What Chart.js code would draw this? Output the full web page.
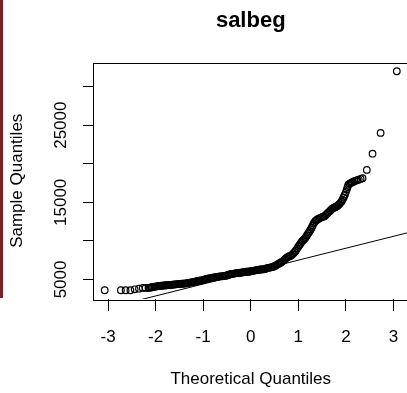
<!DOCTYPE html>
<html>
<head>
<meta charset="utf-8">
<title>salbeg</title>
<script src="https://cdn.jsdelivr.net/npm/chart.js@4"></script>
<style>
    html, body { margin: 0; padding: 0; background: #fff; overflow: hidden; }
    #quadro { position: relative; width: 407px; height: 393px; overflow: hidden; }
    #grafico { position: absolute; left: 0; top: 0; }
    #barra { position: absolute; left: 0; top: 0; width: 3px; height: 298px; background: #7b2227; }
</style>
</head>
<body>
<div id="quadro">
    <canvas id="grafico" width="420" height="393"></canvas>
    <div id="barra"></div>
</div>
<script>
// Quantis teóricos (eixo x)
const quantisTeoricos = [
    -3.07, -2.73, -2.63, -2.53, -2.44, -2.35, -2.27, -2.21, -2.15, -2.125,
    -2.100, -2.075, -2.050, -2.025, -2.000, -1.975, -1.950, -1.925, -1.900, -1.875,
    -1.850, -1.825, -1.800, -1.775, -1.750, -1.725, -1.700, -1.675, -1.650, -1.625,
    -1.600, -1.575, -1.550, -1.525, -1.500, -1.475, -1.450, -1.425, -1.400, -1.375,
    -1.350, -1.325, -1.300, -1.275, -1.250, -1.225, -1.200, -1.175, -1.150, -1.125,
    -1.100, -1.075, -1.050, -1.025, -1.000, -0.975, -0.950, -0.925, -0.900, -0.875,
    -0.850, -0.825, -0.800, -0.775, -0.750, -0.725, -0.700, -0.675, -0.650, -0.625,
    -0.600, -0.575, -0.550, -0.525, -0.500, -0.475, -0.450, -0.425, -0.400, -0.375,
    -0.350, -0.325, -0.300, -0.275, -0.250, -0.225, -0.200, -0.175, -0.150, -0.125,
    -0.100, -0.075, -0.050, -0.025, 0.000, 0.025, 0.050, 0.075, 0.100, 0.125,
    0.150, 0.175, 0.200, 0.225, 0.250, 0.275, 0.300, 0.325, 0.350, 0.375,
    0.400, 0.425, 0.450, 0.475, 0.500, 0.525, 0.550, 0.575, 0.600, 0.625,
    0.650, 0.675, 0.700, 0.725, 0.750, 0.775, 0.800, 0.825, 0.850, 0.875,
    0.900, 0.925, 0.950, 0.975, 1.000, 1.020, 1.040, 1.060, 1.080, 1.100,
    1.120, 1.140, 1.160, 1.180, 1.200, 1.220, 1.240, 1.260, 1.280, 1.300,
    1.320, 1.340, 1.360, 1.380, 1.400, 1.425, 1.450, 1.475, 1.500, 1.525,
    1.550, 1.575, 1.600, 1.625, 1.650, 1.675, 1.700, 1.720, 1.740, 1.760,
    1.780, 1.800, 1.820, 1.840, 1.860, 1.885, 1.910, 1.930, 1.950, 1.965,
    1.980, 2.000, 2.020, 2.035, 2.050, 2.075, 2.100, 2.125, 2.150, 2.180,
    2.210, 2.240, 2.270, 2.310, 2.350, 2.440, 2.560, 2.730, 3.070
];

// Quantis da amostra (salbeg), mesma ordem
const quantisAmostra = [
    3600, 3600, 3600, 3600, 3720, 3800, 3900, 3900, 3900, 3930,
    3960, 3990, 4020, 4050, 4080, 4110, 4140, 4150, 4170, 4185,
    4200, 4215, 4230, 4245, 4260, 4275, 4290, 4305, 4320, 4335,
    4350, 4365, 4380, 4395, 4410, 4425, 4440, 4455, 4470, 4485,
    4500, 4530, 4560, 4590, 4620, 4650, 4680, 4710, 4740, 4770,
    4800, 4830, 4860, 4890, 4920, 4980, 5040, 5070, 5100, 5130,
    5160, 5190, 5220, 5250, 5280, 5310, 5340, 5370, 5400, 5400,
    5400, 5430, 5460, 5490, 5520, 5580, 5640, 5670, 5700, 5730,
    5760, 5790, 5820, 5835, 5850, 5865, 5880, 5910, 5940, 5970,
    6000, 6000, 6000, 6030, 6060, 6090, 6120, 6150, 6180, 6210,
    6240, 6270, 6300, 6300, 6300, 6330, 6360, 6420, 6480, 6510,
    6540, 6570, 6600, 6660, 6720, 6810, 6900, 6990, 7080, 7170,
    7260, 7380, 7500, 7650, 7800, 7890, 7980, 8040, 8100, 8250,
    8400, 8580, 8760, 9000, 9240, 9420, 9600, 9780, 9960, 10080,
    10200, 10350, 10500, 10710, 10920, 11100, 11280, 11490, 11700, 11970,
    12240, 12420, 12600, 12690, 12780, 12870, 12960, 13020, 13080, 13140,
    13200, 13350, 13500, 13650, 13800, 13950, 14100, 14190, 14280, 14340,
    14400, 14460, 14520, 14640, 14760, 14940, 15120, 15360, 15600, 15810,
    16020, 16350, 16680, 16980, 17280, 17400, 17500, 17570, 17640, 17730,
    17820, 17880, 17940, 18030, 18120, 19200, 21300, 24000, 31992
];

// Reta de referência (qqline): extremos
const retaX = [-3.4, 3.4];
const retaY = [693, 11213];

// Marcas dos eixos
const marcasX = [-3, -2, -1, 0, 1, 2, 3];
const marcasY = [5000, 10000, 15000, 20000, 25000, 30000];
const rotulosY = ['5000', '', '15000', '', '25000', ''];

const fonte = "'Liberation Sans', Arial, sans-serif";

// Plugin para desenhar a caixa em volta da área do gráfico
const caixa = {
    id: 'caixa',
    afterDraw(chart) {
        const a = chart.chartArea;
        const ctx = chart.ctx;
        ctx.save();
        ctx.strokeStyle = '#000';
        ctx.lineWidth = 1;
        ctx.strokeRect(Math.round(a.left) + 0.5, Math.round(a.top) + 0.5,
            Math.round(a.right - a.left), Math.round(a.bottom - a.top));
        ctx.restore();
    }
};

const pontos = quantisTeoricos.map((x, i) => ({ x: x, y: quantisAmostra[i] }));
const reta = retaX.map((x, i) => ({ x: x, y: retaY[i] }));

const ctx = document.getElementById('grafico').getContext('2d');
window.meuGrafico = new Chart(ctx, {
    type: 'scatter',
    data: {
        datasets: [{
            label: 'salbeg',
            data: pontos,
            pointStyle: 'circle',
            pointRadius: 3.3,
            pointBorderWidth: 1.2,
            pointBorderColor: '#000',
            pointBackgroundColor: 'rgba(0,0,0,0)',
            showLine: false
        }, {
            label: 'qqline',
            data: reta,
            showLine: true,
            borderColor: '#000',
            borderWidth: 1,
            pointRadius: 0
        }]
    },
    options: {
        responsive: false,
        animation: false,
        events: [],
        layout: { padding: { left: 0, right: 11.5, top: 0, bottom: 0 } },
        plugins: {
            legend: { display: false },
            tooltip: { enabled: false },
            title: {
                display: true,
                text: 'salbeg',
                fullSize: false,
                color: '#000',
                font: { family: fonte, size: 22, weight: 'bold' },
                padding: { top: 8, bottom: 28.1 }
            }
        },
        scales: {
            x: {
                type: 'linear',
                min: -3.316,
                max: 3.316,
                afterBuildTicks: s => { s.ticks = marcasX.map(v => ({ value: v })); },
                afterFit: s => { s.height = 94; },
                ticks: {
                    color: '#000',
                    font: { family: fonte, size: 17 },
                    padding: 16,
                    autoSkip: false,
                    maxRotation: 0,
                    callback: v => String(v)
                },
                grid: { drawOnChartArea: false, drawTicks: true, tickLength: 12, color: '#000', tickColor: '#000' },
                border: { display: false },
                title: {
                    display: true,
                    text: 'Theoretical Quantiles',
                    color: '#000',
                    font: { family: fonte, size: 17 },
                    padding: { top: 0, bottom: 3.8 }
                }
            },
            y: {
                type: 'linear',
                min: 2464,
                max: 33128,
                afterBuildTicks: s => { s.ticks = marcasY.map(v => ({ value: v })); },
                afterFit: s => { s.width = 93; },
                ticks: {
                    color: '#000',
                    font: { family: fonte, size: 17 },
                    padding: -2,
                    autoSkip: false,
                    minRotation: 90,
                    maxRotation: 90,
                    crossAlign: 'center',
                    callback: (v, i) => rotulosY[i]
                },
                grid: { drawOnChartArea: false, drawTicks: true, tickLength: 10, color: '#000', tickColor: '#000' },
                border: { display: false },
                title: {
                    display: true,
                    text: 'Sample Quantiles',
                    color: '#000',
                    font: { family: fonte, size: 17 },
                    padding: { top: 7.5, bottom: 0 }
                }
            }
        }
    },
    plugins: [caixa]
});
</script>
</body>
</html>
